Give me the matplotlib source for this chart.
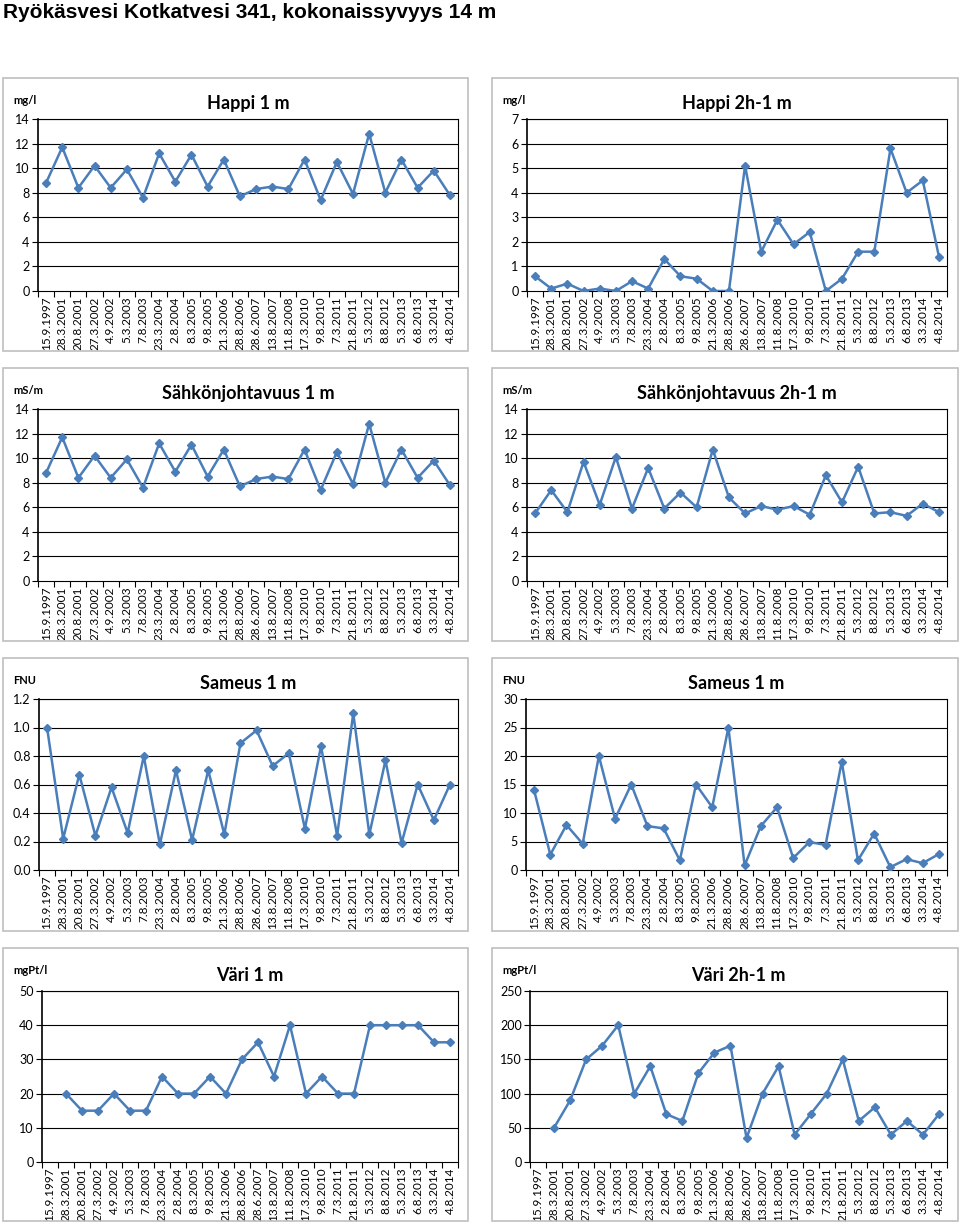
import numpy as np
import matplotlib
matplotlib.use("Agg")
import matplotlib.pyplot as plt
from matplotlib.patches import Rectangle

# Sampling dates (same for every panel)
dates = ["15.9.1997", "28.3.2001", "20.8.2001", "27.3.2002", "4.9.2002",
         "5.3.2003", "7.8.2003", "23.3.2004", "2.8.2004", "8.3.2005",
         "9.8.2005", "21.3.2006", "28.8.2006", "28.6.2007", "13.8.2007",
         "11.8.2008", "17.3.2010", "9.8.2010", "7.3.2011", "21.8.2011",
         "5.3.2012", "8.8.2012", "5.3.2013", "6.8.2013", "3.3.2014", "4.8.2014"]

happi_1m = [8.8, 11.7, 8.4, 10.2, 8.4, 9.9, 7.6, 11.2, 8.9, 11.1, 8.5, 10.7, 7.7,
            8.3, 8.5, 8.3, 10.7, 7.4, 10.5, 7.9, 12.8, 8.0, 10.7, 8.4, 9.8, 7.8]
happi_2h = [0.6, 0.1, 0.3, 0.0, 0.1, 0.0, 0.4, 0.1, 1.3, 0.6, 0.5, 0.0, 0.0,
            5.1, 1.6, 2.9, 1.9, 2.4, 0.0, 0.5, 1.6, 1.6, 5.8, 4.0, 4.5, 1.4]
sahko_1m = [8.8, 11.7, 8.4, 10.2, 8.4, 9.9, 7.6, 11.2, 8.9, 11.1, 8.5, 10.7, 7.7,
            8.3, 8.5, 8.3, 10.7, 7.4, 10.5, 7.9, 12.8, 8.0, 10.7, 8.4, 9.8, 7.8]
sahko_2h = [5.5, 7.4, 5.6, 9.7, 6.2, 10.1, 5.9, 9.2, 5.9, 7.2, 6.0, 10.7, 6.8,
            5.5, 6.1, 5.8, 6.1, 5.4, 8.6, 6.4, 9.3, 5.5, 5.6, 5.3, 6.3, 5.6]
sameus_1m = [1.0, 0.22, 0.67, 0.24, 0.58, 0.26, 0.80, 0.18, 0.70, 0.21, 0.70, 0.25, 0.89,
             0.98, 0.73, 0.82, 0.29, 0.87, 0.24, 1.10, 0.25, 0.77, 0.19, 0.60, 0.35, 0.60]
sameus_2h = [14, 2.7, 7.9, 4.6, 20, 9, 15, 7.7, 7.3, 1.7, 15, 11, 25,
             0.8, 7.7, 11, 2.1, 4.9, 4.4, 19, 1.7, 6.4, 0.5, 1.9, 1.2, 2.8]
vari_1m = [np.nan, 20, 15, 15, 20, 15, 15, 25, 20, 20, 25, 20, 30,
           35, 25, 40, 20, 25, 20, 20, 40, 40, 40, 40, 35, 35]
vari_2h = [np.nan, 50, 90, 150, 170, 200, 100, 140, 70, 60, 130, 160, 170,
           35, 100, 140, 40, 70, 100, 150, 60, 80, 40, 60, 40, 70]

W, H = 960, 1223
fig = plt.figure(figsize=(W / 100, H / 100), dpi=100)
fig.patch.set_facecolor("white")

BLUE = "#4A7EBB"
TXT = ["Lato", "DejaVu Sans"]

fig.text(3 / W, 1 - 12 / H, "Ryökäsvesi Kotkatvesi 341, kokonaissyvyys 14 m",
         family=["Liberation Sans", "DejaVu Sans"], fontweight="bold",
         fontsize=15, va="center", ha="left")

# panels: (title, unit, values, ymax, ystep, fmt)
panels = [
    ("Happi 1 m", "mg/l", happi_1m, 14, 2, "{:.0f}"),
    ("Happi 2h-1 m", "mg/l", happi_2h, 7, 1, "{:.0f}"),
    ("Sähkönjohtavuus 1 m", "mS/m", sahko_1m, 14, 2, "{:.0f}"),
    ("Sähkönjohtavuus 2h-1 m", "mS/m", sahko_2h, 14, 2, "{:.0f}"),
    ("Sameus 1 m", "FNU", sameus_1m, 1.2, 0.2, "{:.1f}"),
    ("Sameus 1 m", "FNU", sameus_2h, 30, 5, "{:.0f}"),
    ("Väri 1 m", "mgPt/l", vari_1m, 50, 10, "{:.0f}"),
    ("Väri 2h-1 m", "mgPt/l", vari_2h, 250, 50, "{:.0f}"),
]

box_top = [78, 368, 658, 948]
box_h = 273
box_x = [(3, 465), (492, 466)]
plot_top = [119, 409, 699, 991]
plot_bot = [291, 581, 870, 1162]
plot_left = [38, 527, 38, 527, 39, 526, 42, 530]
plot_right = [458, 947]

x = np.arange(len(dates))

for i, (title, unit, vals, ymax, ystep, fmt) in enumerate(panels):
    r, c = divmod(i, 2)
    bx, bw = box_x[c]
    # light grey frame around each chart
    fig.patches.append(Rectangle((bx / W, 1 - (box_top[r] + box_h) / H), bw / W, box_h / H,
                                 transform=fig.transFigure, fill=False,
                                 edgecolor="#BFBFBF", lw=1.2))
    l = plot_left[i]
    rr = plot_right[c]
    ax = fig.add_axes([l / W, 1 - plot_bot[r] / H, (rr - l) / W, (plot_bot[r] - plot_top[r]) / H])
    ax.plot(x, vals, color=BLUE, lw=1.8, marker="D", ms=4, zorder=3)
    ax.set_xlim(-0.5, len(dates) - 0.5)
    ax.set_ylim(0, ymax)
    yt = np.arange(0, ymax + ystep / 2, ystep)
    ax.set_yticks(yt)
    ax.set_yticklabels([fmt.format(v) for v in yt], family=TXT, fontsize=9)
    for v in yt[1:]:
        ax.axhline(v, color="black", lw=0.8, zorder=1)
    ax.set_xticks(x)
    ax.set_xticklabels(dates, rotation=90, family=TXT, fontsize=8.5)
    ax.set_xticks(np.arange(-0.5, len(dates)), minor=True)
    ax.tick_params(axis="x", which="major", length=0, pad=4)
    ax.tick_params(axis="x", which="minor", length=4, width=0.8, direction="out")
    ax.tick_params(axis="y", length=4, width=0.8, pad=2)
    for s in ax.spines.values():
        s.set_color("black")
        s.set_linewidth(0.8)
    ax.spines["left"].set_linewidth(1.2)
    ax.set_title(title, family=TXT, fontweight="bold", fontsize=13, pad=7)
    fig.text((bx + 10) / W, 1 - (box_top[r] + 23) / H, unit, family=TXT,
             fontweight="bold", fontsize=8, va="center", ha="left")

fig.savefig("out.png", dpi=100)
